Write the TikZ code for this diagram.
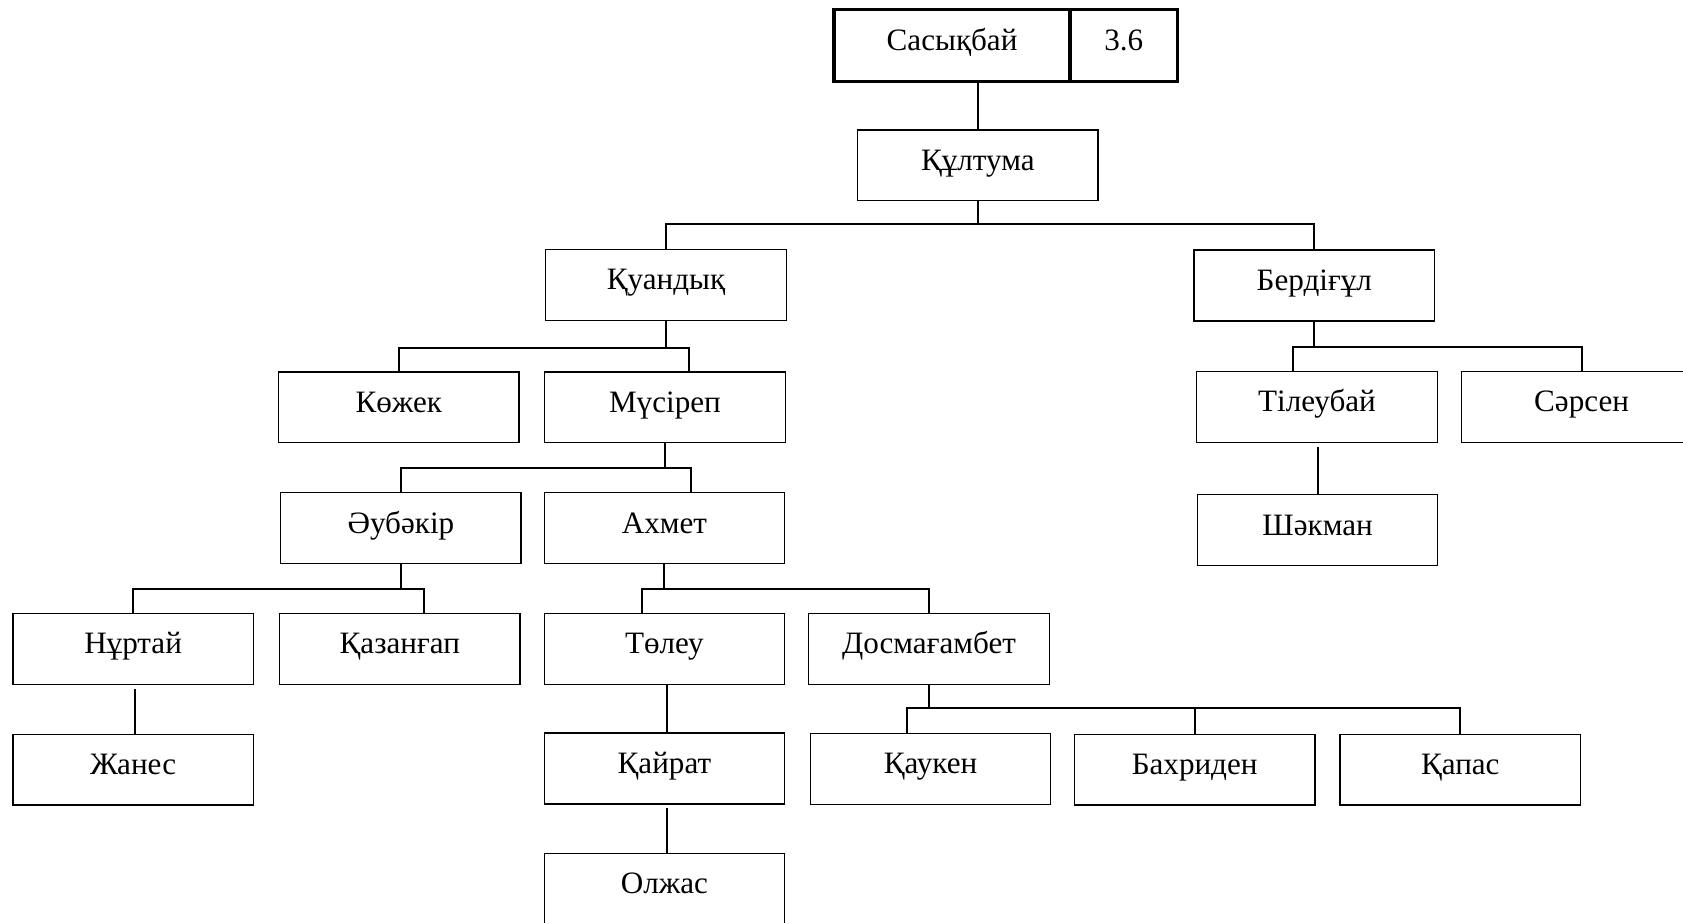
\documentclass[tikz,border=0pt]{standalone}
\usepackage{fontspec}
\setmainfont{Liberation Serif}
\usetikzlibrary{calc}
\begin{document}
\begin{tikzpicture}[x=1pt,y=-1pt,
  box/.style={draw, line width=1.2pt, minimum width=224pt, minimum height=66pt, inner sep=0pt,
    text height=0.92em, text depth=0em, font=\fontsize{29}{34}\selectfont},
  topbox/.style={box, line width=3.2pt, minimum height=67pt},
  bus/.style={line width=1.8pt}]
\useasboundingbox (0,0) rectangle (1568,859);
% nodes
\node[topbox, minimum width=220pt] (sas) at (887,42.5) {Сасықбай};
\node[topbox, minimum width=100pt] (num) at (1047,42.5) {3.6};
\node[box] (kultuma) at (911,154) {Құлтума};
\node[box] (kuandyk) at (620.5,265.5) {Қуандық};
\node[box] (berdigul) at (1224.5,266) {Бердіғұл};
\node[box] (kozhek) at (371.5,379.5) {Көжек};
\node[box] (musirep) at (619.5,379.5) {Мүсіреп};
\node[box] (tileubai) at (1227,379) {Тілеубай};
\node[box] (sarsen) at (1473.5,379) {Сәрсен};
\node[box] (shakman) at (1227.5,494) {Шәкман};
\node[box] (aubakir) at (373.5,492) {Әубәкір};
\node[box] (akhmet) at (619,492) {Ахмет};
\node[box] (nurtai) at (124,604.5) {Нұртай};
\node[box] (kazangap) at (372.5,604.5) {Қазанғап};
\node[box] (toleu) at (619,604.5) {Төлеу};
\node[box] (dosmagambet) at (865.5,604.5) {Досмағамбет};
\node[box] (zhanes) at (124,717) {Жанес};
\node[box] (kairat) at (619,716) {Қайрат};
\node[box] (olzhas) at (619,828) {Олжас};
\node[box] (kauken) at (867,716.5) {Қаукен};
\node[box] (bakhriden) at (1113,717) {Бахриден};
\node[box] (kapas) at (1360.5,717) {Қапас};
% connectors
\draw[bus] (kultuma.north) -- (kultuma.north |- sas.south);
\draw[bus] (kuandyk.north) -- ++(0,-23) coordinate (b1) -| (berdigul.north);
\draw[bus] (kultuma.south) -- (kultuma.south |- b1);
\draw[bus] (kozhek.north) -- ++(0,-22) coordinate (b2) -| ($(musirep.north)+(22.5,0)$);
\draw[bus] (kuandyk.south) -- (kuandyk.south |- b2);
\draw[bus] ($(tileubai.north)+(-22,0)$) -- ++(0,-22) coordinate (b3) -| (sarsen.north);
\draw[bus] (berdigul.south) -- (berdigul.south |- b3);
\draw[bus] ($(shakman.north |- tileubai.south)+(0,4)$) -- (shakman.north);
\draw[bus] (aubakir.north) -- ++(0,-22) coordinate (b4) -| ($(akhmet.north)+(25,0)$);
\draw[bus] (musirep.south) -- (musirep.south |- b4);
\draw[bus] (nurtai.north) -- ++(0,-22) coordinate (b5) -| ($(kazangap.north)+(22.5,0)$);
\draw[bus] (aubakir.south) -- (aubakir.south |- b5);
\draw[bus] ($(toleu.north)+(-21,0)$) -- ++(0,-22) coordinate (b6) -| (dosmagambet.north);
\draw[bus] (akhmet.south) -- (akhmet.south |- b6);
\draw[bus] ($(zhanes.north |- nurtai.south)+(2,4)$) -- ($(zhanes.north)+(2,0)$);
\draw[bus] ($(kairat.north |- toleu.south)+(2,0)$) -- ($(kairat.north)+(2,0)$);
\draw[bus] ($(olzhas.north |- kairat.south)+(2,3)$) -- ($(olzhas.north)+(2,0)$);
\draw[bus] ($(kauken.north)+(-22,0)$) -- ++(0,-23) coordinate (b7) -| (kapas.north);
\draw[bus] (bakhriden.north) -- (bakhriden.north |- b7);
\draw[bus] (dosmagambet.south) -- (dosmagambet.south |- b7);
\end{tikzpicture}
\end{document}
